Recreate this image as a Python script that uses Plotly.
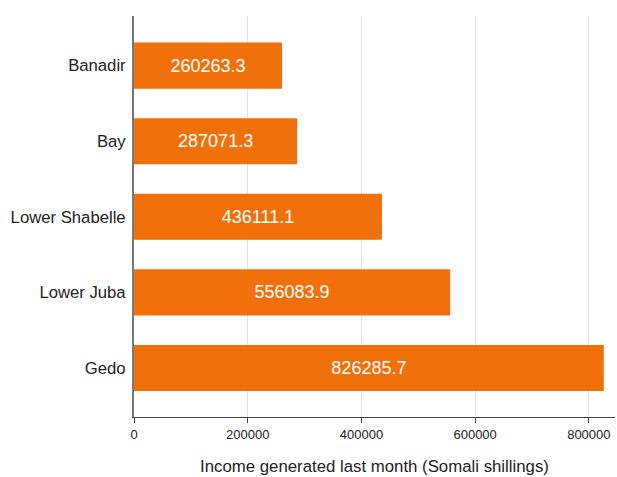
import plotly.graph_objects as go

regions = ["Gedo", "Lower Juba", "Lower Shabelle", "Bay", "Banadir"]
income = [826285.7, 556083.9, 436111.1, 287071.3, 260263.3]
x_ticks = [0, 200000, 400000, 600000, 800000]

fig = go.Figure(
    go.Bar(
        y=regions,
        x=income,
        orientation="h",
        marker=dict(color="#f0700c", line=dict(width=0)),
        text=[f"{v:.1f}" for v in income],
        textposition="inside",
        insidetextanchor="middle",
        textfont=dict(color="white", size=18, family="Liberation Sans, Arial"),
        width=0.61,
    )
)

fig.update_layout(
    width=617,
    height=477,
    margin=dict(l=134, r=2, t=16, b=60),
    plot_bgcolor="white",
    paper_bgcolor="white",
    font=dict(family="Liberation Sans, Arial", color="#222"),
    showlegend=False,
    uniformtext=dict(mode=False),
)

fig.update_xaxes(
    range=[0, 846000],
    tickvals=x_ticks,
    ticktext=[str(t) for t in x_ticks],
    showgrid=True,
    gridcolor="#e3e3e3",
    gridwidth=1,
    zeroline=False,
    showline=True,
    linecolor="#444",
    linewidth=1,
    ticks="outside",
    ticklen=5,
    tickcolor="#444",
    tickfont=dict(size=13, color="#222"),
    title=dict(text="Income generated last month (Somali shillings)",
               font=dict(size=16.8, color="#222"), standoff=19),
)

fig.update_yaxes(
    range=[-0.648, 4.656],
    showgrid=False,
    zeroline=False,
    showline=True,
    linecolor="#777",
    linewidth=2,
    ticks="",
    ticklabelstandoff=3,
    tickfont=dict(size=16.7, color="#222"),
)

fig.write_html("out.html")
